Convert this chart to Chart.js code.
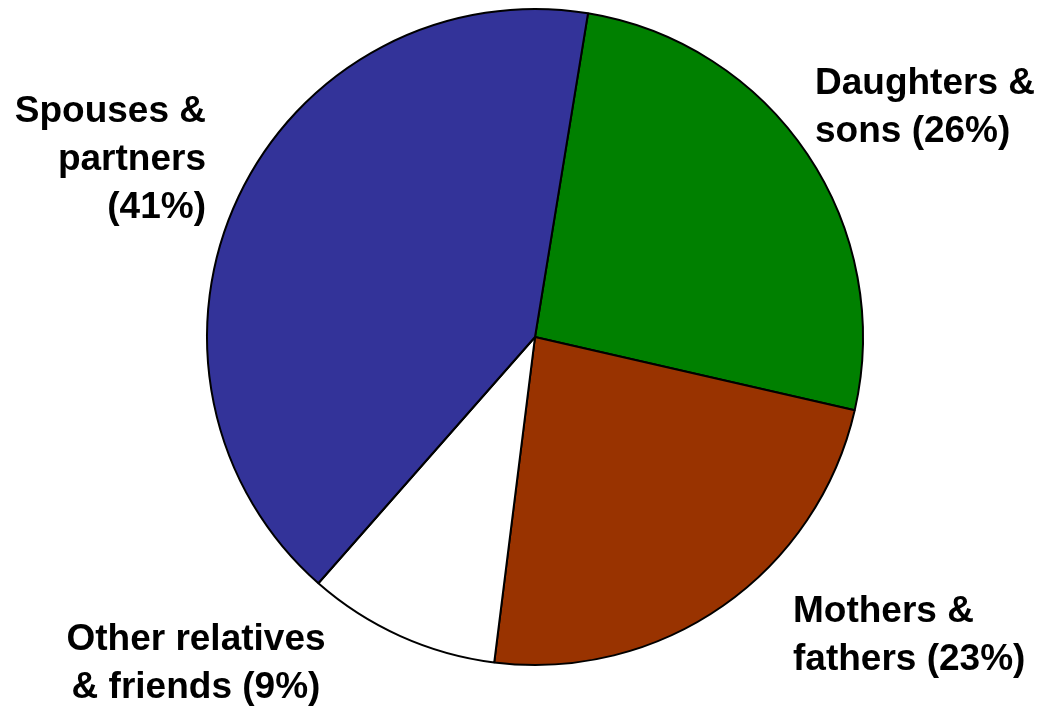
<!DOCTYPE html>
<html>
<head>
<meta charset="utf-8">
<script src="https://cdn.jsdelivr.net/npm/chart.js@4"></script>
<style>
  html, body { margin: 0; padding: 0; background: #fff; }
  #wrap { width: 1043px; height: 709px; }
</style>
</head>
<body>
<div id="wrap"><canvas id="pieChart"></canvas></div>
<script>
// slice data (clockwise from just right of 12 o'clock)
const categories = ["Daughters & sons", "Mothers & fathers", "Other relatives & friends", "Spouses & partners"];
const shares = [26.0, 23.4, 9.5, 41.1];
const sliceColors = ["#008000", "#993300", "#ffffff", "#333399"];
// label text as printed, one entry per line
const labelLines = [
    ["Daughters &", "sons (26%)"],
    ["Mothers &", "fathers (23%)"],
    ["Other relatives", "& friends (9%)"],
    ["Spouses &", "partners", "(41%)"]
];

// where each label sits, as offset from pie centre (px) and alignment
const labelPlace = [
    { dx: 280, dy: -253, align: "left" },
    { dx: 258, dy: 275, align: "left" },
    { dx: -339, dy: 303, align: "center" },
    { dx: -329, dy: -225, align: "right" }
];

const outsideLabels = {
    id: "outsideLabels",
    afterDraw(chart) {
        const ctx = chart.ctx;
        const arc = chart.getDatasetMeta(0).data[0];
        const cx = arc.x, cy = arc.y;
        ctx.save();
        ctx.fillStyle = "#000";
        ctx.font = "bold 37px 'Liberation Sans', Arial, sans-serif";
        ctx.textBaseline = "middle";
        labelLines.forEach((lines, i) => {
            const p = labelPlace[i];
            ctx.textAlign = p.align;
            lines.forEach((t, j) => {
                ctx.fillText(t, cx + p.dx, cy + p.dy + j * 48);
            });
        });
        ctx.restore();
    }
};

const canvas = document.getElementById("pieChart");
const ctx = canvas.getContext("2d");
const myChart = new Chart(ctx, {
    type: "pie",
    data: {
        labels: categories,
        datasets: [
            {
                data: shares,
                backgroundColor: sliceColors,
                borderColor: "#000",
                borderWidth: 2,
                hoverOffset: 0
            }
        ]
    },
    options: {
        responsive: true,
        maintainAspectRatio: false,
        animation: false,
        rotation: 9.3,
        layout: {
            padding: { top: 8, bottom: 43, left: 206, right: 179 }
        },
        plugins: {
            legend: { display: false },
            tooltip: { enabled: false }
        }
    },
    plugins: [outsideLabels]
});
</script>
</body>
</html>
